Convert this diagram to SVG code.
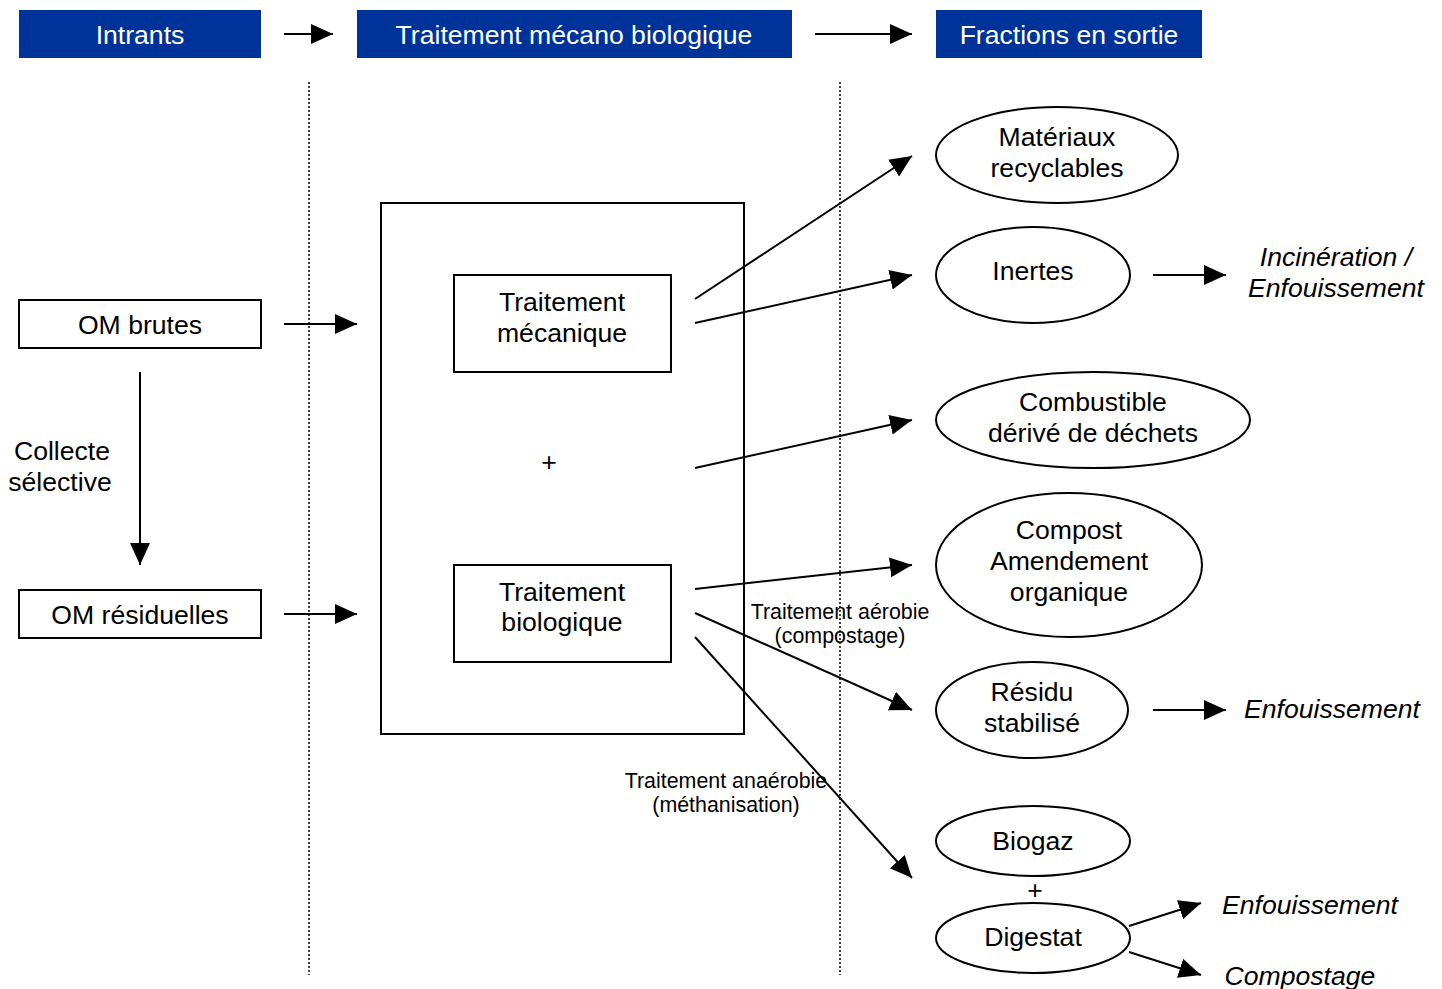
<svg xmlns="http://www.w3.org/2000/svg" width="1442" height="989" viewBox="0 0 1442 989">
<defs>
<marker id="ah" markerUnits="userSpaceOnUse" markerWidth="24" markerHeight="22" refX="22" refY="10" orient="auto">
<path d="M0,0 L22,10 L0,20 Z" fill="#000"/>
</marker>
<style>
text{font-family:"Liberation Sans",Arial,sans-serif;fill:#000;text-anchor:middle}
.hdr{fill:#003399}
.ht{fill:#fff;font-size:26.6px}
.t{font-size:26.6px}
.s{font-size:21.4px}
.i{font-size:26.6px;font-style:italic}
.box{fill:#fff;stroke:#000;stroke-width:2}
.el{fill:#fff;stroke:#000;stroke-width:2}
.c{stroke:#000;stroke-width:2;fill:none;marker-end:url(#ah)}
.dot{stroke:#000;stroke-width:1.5;stroke-dasharray:2,2;fill:none}
</style>
</defs>
<rect width="1442" height="989" fill="#fff"/>
<g id="dividers">
<line class="dot" x1="309" y1="82" x2="309" y2="975"/>
<line class="dot" x1="840" y1="82" x2="840" y2="975"/>
</g>
<g id="h-intrants"><rect class="hdr" x="19" y="10" width="242" height="48"/><text class="ht" x="140" y="44">Intrants</text></g>
<g id="h-tmb"><rect class="hdr" x="357" y="10" width="435" height="48"/><text class="ht" x="574" y="44">Traitement mécano biologique</text></g>
<g id="h-fractions"><rect class="hdr" x="936" y="10" width="266" height="48"/><text class="ht" x="1069" y="44">Fractions en sortie</text></g>
<g id="om-brutes"><rect class="box" x="19" y="300" width="242" height="48"/><text class="t" x="140" y="334">OM brutes</text></g>
<g id="om-residuelles"><rect class="box" x="19" y="590" width="242" height="48"/><text class="t" x="140" y="624">OM résiduelles</text></g>
<g id="collecte"><text class="t" x="62" y="460">Collecte</text><text class="t" x="60" y="491">sélective</text></g>
<g id="tmb-box"><rect class="box" x="381" y="203" width="363" height="531"/><text class="t" x="549" y="471">+</text></g>
<g id="t-meca"><rect class="box" x="454" y="275" width="217" height="97"/><text class="t" x="562" y="311">Traitement</text><text class="t" x="562" y="342">mécanique</text></g>
<g id="t-bio"><rect class="box" x="454" y="565" width="217" height="97"/><text class="t" x="562" y="601">Traitement</text><text class="t" x="562" y="631">biologique</text></g>
<g id="materiaux"><ellipse class="el" cx="1057" cy="155" rx="121" ry="48"/><text class="t" x="1057" y="146">Matériaux</text><text class="t" x="1057" y="177">recyclables</text></g>
<g id="inertes"><ellipse class="el" cx="1033" cy="275" rx="97" ry="48"/><text class="t" x="1033" y="280">Inertes</text></g>
<g id="combustible"><ellipse class="el" cx="1093" cy="420" rx="157" ry="48"/><text class="t" x="1093" y="411">Combustible</text><text class="t" x="1093" y="442">dérivé de déchets</text></g>
<g id="compost"><ellipse class="el" cx="1069" cy="565" rx="133" ry="72"/><text class="t" x="1069" y="539">Compost</text><text class="t" x="1069" y="570">Amendement</text><text class="t" x="1069" y="601">organique</text></g>
<g id="residu"><ellipse class="el" cx="1032" cy="710" rx="96" ry="48"/><text class="t" x="1032" y="701">Résidu</text><text class="t" x="1032" y="732">stabilisé</text></g>
<g id="biogaz"><ellipse class="el" cx="1033" cy="841" rx="97" ry="35"/><text class="t" x="1033" y="850">Biogaz</text></g>
<g id="plus2"><text class="t" x="1035" y="899">+</text></g>
<g id="digestat"><ellipse class="el" cx="1033" cy="938" rx="97" ry="35"/><text class="t" x="1033" y="946">Digestat</text></g>
<g id="out-labels">
<text class="i" x="1336" y="266">Incinération /</text>
<text class="i" x="1336" y="297">Enfouissement</text>
<text class="i" x="1332" y="718">Enfouissement</text>
<text class="i" x="1310" y="914">Enfouissement</text>
<text class="i" x="1300" y="985">Compostage</text>
</g>
<g id="proc-labels">
<text class="s" x="840" y="619">Traitement aérobie</text>
<text class="s" x="840" y="643">(compostage)</text>
<text class="s" x="726" y="788">Traitement anaérobie</text>
<text class="s" x="726" y="812">(méthanisation)</text>
</g>
<g id="connectors">
<line class="c" x1="284" y1="34" x2="333" y2="34"/>
<line class="c" x1="815" y1="34" x2="912" y2="34"/>
<line class="c" x1="140" y1="372" x2="140" y2="565"/>
<line class="c" x1="284" y1="324" x2="357" y2="324"/>
<line class="c" x1="284" y1="614" x2="357" y2="614"/>
<line class="c" x1="695" y1="299" x2="912" y2="156"/>
<line class="c" x1="695" y1="323" x2="912" y2="275"/>
<line class="c" x1="695" y1="468" x2="912" y2="420"/>
<line class="c" x1="695" y1="589" x2="912" y2="565"/>
<line class="c" x1="695" y1="613" x2="912" y2="710"/>
<line class="c" x1="695" y1="637" x2="912" y2="878"/>
<line class="c" x1="1153" y1="275" x2="1226" y2="275"/>
<line class="c" x1="1153" y1="710" x2="1226" y2="710"/>
<line class="c" x1="1129" y1="926" x2="1201" y2="903"/>
<line class="c" x1="1129" y1="952" x2="1201" y2="975"/>
</g>
</svg>
